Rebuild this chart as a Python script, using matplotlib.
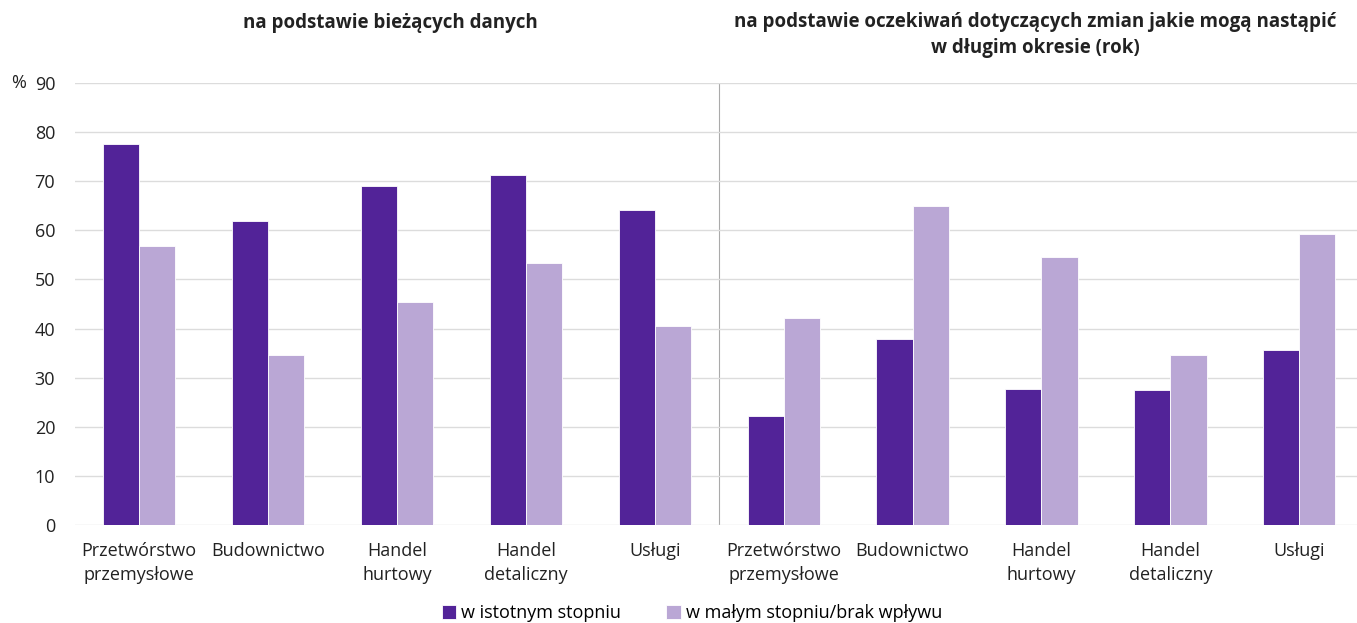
import numpy as np
import matplotlib
matplotlib.use('Agg')
import matplotlib.pyplot as plt

plt.rcParams['font.family'] = ['Open Sans', 'DejaVu Sans']

# categories and values
categories = ['Przetwórstwo\nprzemysłowe', 'Budownictwo', 'Handel\nhurtowy',
              'Handel\ndetaliczny', 'Usługi']
current_high = [77.6, 61.9, 69.0, 71.3, 64.1]
current_low = [56.8, 34.6, 45.4, 53.3, 40.5]
future_high = [22.2, 37.9, 27.7, 27.5, 35.6]
future_low = [42.1, 65.0, 54.6, 34.6, 59.3]

labels = categories + categories
high = current_high + future_high
low = current_low + future_low

dark = '#522398'
light = '#baa7d5'

fig = plt.figure(figsize=(13.57, 6.23), dpi=100)
ax = fig.add_axes([0.055, 0.157, 0.950, 0.71])

x = np.arange(len(labels))
w = 0.28
ax.bar(x - w / 2, high, w, color=dark, edgecolor='white', linewidth=0.6,
       label='w istotnym stopniu', zorder=3)
ax.bar(x + w / 2, low, w, color=light, edgecolor='white', linewidth=0.6,
       label='w małym stopniu/brak wpływu', zorder=3)

ax.set_xlim(-0.5, len(labels) - 0.5)
ax.set_ylim(0, 90)
ax.set_yticks(np.arange(0, 91, 10))
ax.yaxis.grid(True, color='#dcdcdc', linewidth=1, zorder=0)
ax.axvline(4.5, color='#aaaaaa', linewidth=0.8, zorder=1)
for s in ax.spines.values():
    s.set_visible(False)
ax.tick_params(length=0, labelsize=13, colors='#222222')
ax.tick_params(axis='y', pad=14)
ax.set_xticks(x)
ax.set_xticklabels(labels, linespacing=1.45)
ax.tick_params(axis='x', pad=12)

fig.text(0.008, 0.867, '%', fontsize=13, va='center', color='#222222')

fig.text(0.288, 0.963, 'na podstawie bieżących danych', ha='center', va='center',
         fontsize=13.5, fontweight='bold', color='#222222')
fig.text(0.763, 0.944, 'na podstawie oczekiwań dotyczących zmian jakie mogą nastąpić\nw długim okresie (rok)',
         ha='center', va='center', fontsize=13.5, fontweight='bold', color='#222222',
         linespacing=1.4)

fig.legend(loc='lower center', bbox_to_anchor=(0.51, -0.025), ncol=2, frameon=False,
           fontsize=13, handlelength=0.8, handleheight=0.8, handletextpad=0.3,
           columnspacing=2.5)

fig.savefig('out.png', dpi=100)
